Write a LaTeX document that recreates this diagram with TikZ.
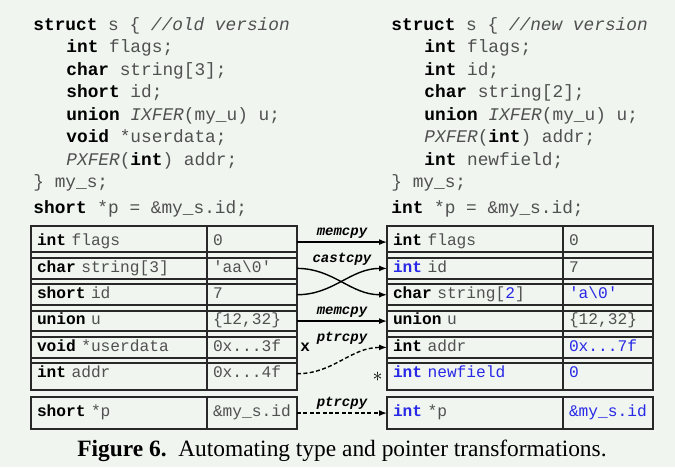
\documentclass[tikz,border=0pt]{standalone}
\usepackage{fontspec}
\setmainfont{Liberation Serif}
\setmonofont{Liberation Mono}
\usetikzlibrary{positioning,arrows.meta,calc}
\definecolor{bgcol}{RGB}{240,245,240}
\definecolor{codegray}{RGB}{80,80,80}
\definecolor{chgblue}{RGB}{40,40,230}
\definecolor{boxline}{RGB}{40,40,40}
\newcommand\kw[1]{{\color{black}\bfseries #1}}
\newcommand\chg[1]{{\color{chgblue}#1}}
\newcommand\chgkw[1]{{\color{chgblue}\bfseries #1}}
\newcommand\cmt[1]{\textit{#1}}
\tikzset{
	code line/.style={
		anchor=base west,
		inner sep=0pt,
		text=codegray,
		font=\fontsize{8.9}{11}\selectfont\ttfamily },
	table cell/.style={
		draw=boxline,
		line width=1pt,
		outer sep=0pt,
		inner xsep=3pt,
		minimum height=13.17pt,
		align=left,
		text=codegray,
		font=\fontsize{8.1}{9.4}\selectfont\ttfamily,
		execute at begin node=\strut },
	cell field/.style={text width=82pt},
	cell value/.style={text width=39pt},
	copy label/.style={
		inner sep=1.5pt,
		font=\fontsize{7}{8}\selectfont\ttfamily\bfseries\itshape },
	copy arrow/.style={->, line width=0.7pt, draw=black},
	ptr arrow/.style={copy arrow, dash pattern=on 2pt off 1.2pt},
}

\begin{document}
\begin{tikzpicture}[x=0.5pt, y=-0.5pt, >={Latex[length=4pt,width=3pt]}]

		\useasboundingbox[fill=bgcol] (0,0) rectangle (675,467);

		% old version of the struct
		\foreach \x/\t [count=\i] in {33/{\kw{struct} s \{ \cmt{//old version}},
			66/{\kw{int} flags;}, 66/{\kw{char} string[3];}, 66/{\kw{short} id;},
			66/{\kw{union} \textit{IXFER}(my\_u) u;}, 66/{\kw{void} *userdata;},
			66/{\textit{PXFER}(\kw{int}) addr;}, 33/{\} my\_s;}}
		\node [code line] (old-code-\i) at (\x,{30+22.5*(\i-1)}) {\t};
		\node [code line] (old-ptr) at (33,213) {\kw{short} *p = \&my\_s.id;};

		% new version of the struct
		\foreach \x/\t [count=\i] in {391/{\kw{struct} s \{ \cmt{//new version}},
			424/{\kw{int} flags;}, 424/{\kw{int} id;}, 424/{\kw{char} string[2];},
			424/{\kw{union} \textit{IXFER}(my\_u) u;}, 424/{\textit{PXFER}(\kw{int}) addr;},
			424/{\kw{int} newfield;}, 391/{\} my\_s;}}
		\node [code line] (new-code-\i) at (\x,{30+22.5*(\i-1)}) {\t};
		\node [code line] (new-ptr) at (391,213) {\kw{int} *p = \&my\_s.id;};

		% memory layout, old
		\foreach \f/\v [count=\i] in {{\kw{int} flags}/{0},
			{\kw{char} string[3]}/{'aa\textbackslash 0'}, {\kw{short} id}/{7},
			{\kw{union} u}/{\{12,32\}}, {\kw{void} *userdata}/{0x.{}.{}.3f},
			{\kw{int} addr}/{0x.{}.{}.4f}}
		{
		\node [table cell, cell field, anchor=north west] (old-f\i) at (31,{226+26.33*(\i-1)}) {\f};
		\node [table cell, cell value, right=0pt of old-f\i] (old-v\i) {\v};
		}

		% memory layout, new
		\foreach \f/\v [count=\i] in {{\kw{int} flags}/{0},
			{\chgkw{int} id}/{7}, {\kw{char} string[\chg{2}]}/{\chg{'a\textbackslash 0'}},
			{\kw{union} u}/{\{12,32\}}, {\kw{int} addr}/{\chg{0x.{}.{}.7f}},
			{\chgkw{int} \chg{newfield}}/{\chg{0}}}
		{
		\node [table cell, cell field, anchor=north west] (new-f\i) at (387,{226+26.33*(\i-1)}) {\f};
		\node [table cell, cell value, right=0pt of new-f\i] (new-v\i) {\v};
		}

		% the pointer
		\node [table cell, cell field, anchor=north west, minimum height=10.5pt] (old-fp) at (31,397) {\kw{short} *p};
		\node [table cell, cell value, minimum height=10.5pt, right=0pt of old-fp] (old-vp) {\&my\_s.id};
		\node [table cell, cell field, anchor=north west, minimum height=10.5pt] (new-fp) at (387,397) {\chgkw{int} *p};
		\node [table cell, cell value, minimum height=10.5pt, right=0pt of new-fp] (new-vp) {\chg{\&my\_s.id}};

		% transformations
		\draw [copy arrow] (old-v1.east) -- (new-f1.west)
		node [copy label, midway, above] (lbl-mem1) {memcpy};
		\draw [copy arrow] (old-v2.east) to[out=0, in=180] (new-f3.west);
		\draw [copy arrow] (old-v3.east) to[out=0, in=180] (new-f2.west);
		\node [copy label, above] (lbl-cast) at ($(old-v2.east)!.5!(new-f2.west)$) {castcpy};
		\draw [copy arrow] (old-v4.east) -- (new-f4.west)
		node [copy label, midway, above] (lbl-mem2) {memcpy};
		\draw [ptr arrow] (old-v6.east) to[out=0, in=180] (new-f5.west);
		\node [copy label, above] (lbl-ptr1) at ($(old-v5.east)!.5!(new-f5.west)$) {ptrcpy};
		\draw [ptr arrow] (old-vp.east) -- (new-fp.west)
		node [copy label, midway, above] (lbl-ptr2) {ptrcpy};

		\node [anchor=west, inner sep=1.5pt, font=\fontsize{8}{10}\selectfont\ttfamily\bfseries] (del-mark) at (old-v5.east) {x};
		\node [anchor=east, inner sep=2pt, yshift=-1.5pt, font=\bfseries] (add-mark) at (new-f6.west) {$*$};

		\node [font=\fontsize{11.7}{14}\selectfont] (caption) at (342,451)
		{\textbf{Figure 6.}\ \ Automating type and pointer transformations.};
	\end{tikzpicture}
\end{document}
